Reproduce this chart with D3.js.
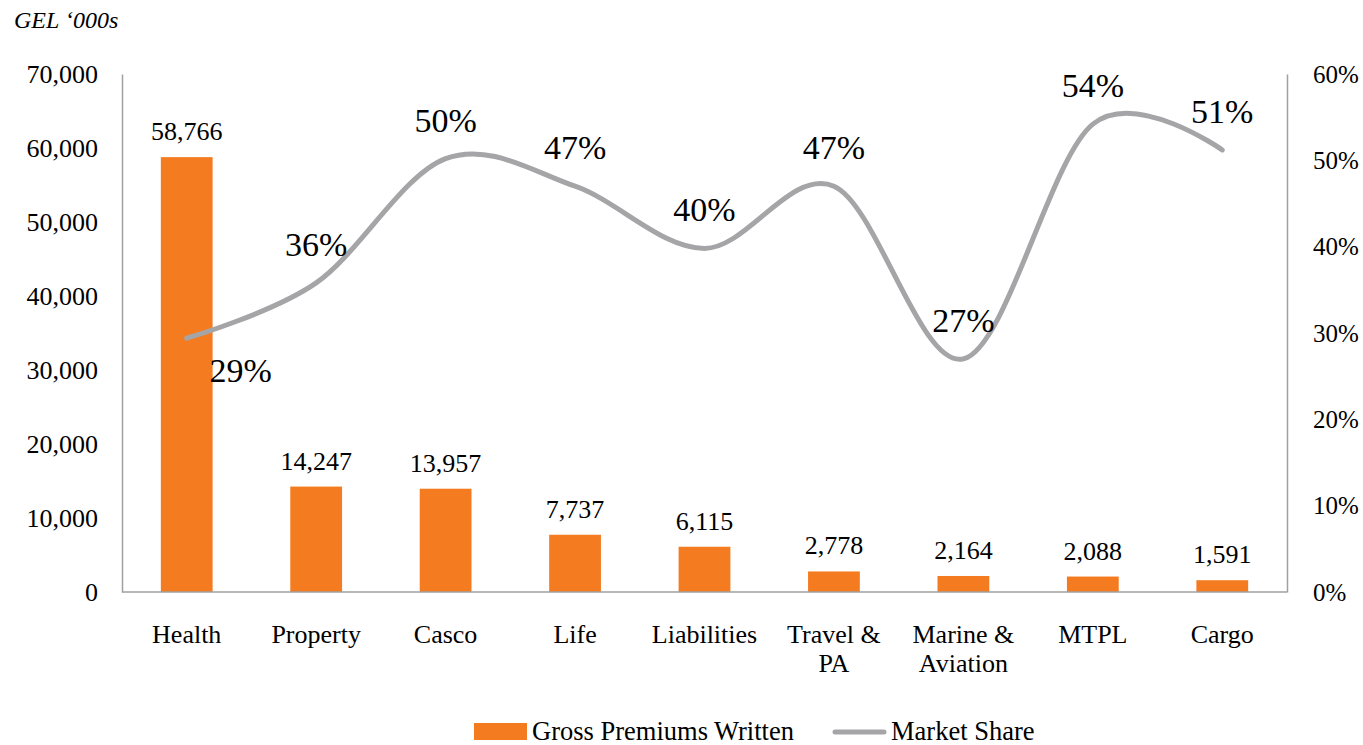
<!DOCTYPE html>
<html>
<head>
<meta charset="utf-8">
<script src="https://cdn.jsdelivr.net/npm/d3@7"></script>
<style>
  html, body { margin: 0; padding: 0; background: #fff; }
  svg { display: block; }
  svg text { font-family: "Liberation Serif", "Times New Roman", serif; }
</style>
</head>
<body>
<svg id="chart" width="1363" height="745"></svg>
<script>
const categories = ["Health", "Property", "Casco", "Life", "Liabilities", "Travel & PA", "Marine & Aviation", "MTPL", "Cargo"];
const categoryLines = [["Health"], ["Property"], ["Casco"], ["Life"], ["Liabilities"], ["Travel &", "PA"], ["Marine &", "Aviation"], ["MTPL"], ["Cargo"]];
const premiums = [58766, 14247, 13957, 7737, 6115, 2778, 2164, 2088, 1591];
const marketShare = [0.294, 0.358, 0.502, 0.470, 0.398, 0.470, 0.270, 0.542, 0.512];
const leftTicks = [0, 10000, 20000, 30000, 40000, 50000, 60000, 70000];
const rightTicks = [0, 0.1, 0.2, 0.3, 0.4, 0.5, 0.6];
const seriesNames = ["Gross Premiums Written", "Market Share"];
const unitLabel = "GEL \u2018000s";

const barColor = "#F47B20";
const lineColor = "#A5A5A8";
const axisColor = "#A0A0A0";
const serif = "Liberation Serif";

const svg = d3.select("#chart");
const plotL = 122, plotR = 1287, plotT = 74, plotB = 592;

const x = d3.scaleBand().domain(categories).range([plotL, plotR]).paddingInner(0.6).paddingOuter(0.3);
const yL = d3.scaleLinear().domain([0, 70000]).range([plotB, plotT]);
const yR = d3.scaleLinear().domain([0, 0.6]).range([plotB, plotT]);
const cx = c => x(c) + x.bandwidth() / 2;

// unit label
svg.append("text").attr("x", 14).attr("y", 28)
  .attr("font-family", serif).attr("font-size", 24).attr("font-style", "italic").attr("fill", "#000")
  .text(unitLabel);

// left axis
const axL = svg.append("g").attr("transform", `translate(${plotL},0)`)
  .call(d3.axisLeft(yL).tickValues(leftTicks).tickSize(0).tickPadding(24).tickFormat(d3.format(",")));
axL.select(".domain").attr("stroke", axisColor).attr("stroke-width", 1.5);
axL.selectAll("text").attr("font-size", 26).attr("font-family", serif).attr("fill", "#000");

// right axis
const axR = svg.append("g").attr("transform", `translate(${plotR},0)`)
  .call(d3.axisRight(yR).tickValues(rightTicks).tickSize(0).tickPadding(26).tickFormat(d3.format(".0%")));
axR.select(".domain").attr("stroke", axisColor).attr("stroke-width", 1.5);
axR.selectAll("text").attr("font-size", 25).attr("font-family", serif).attr("fill", "#000");

// bars
svg.append("g").selectAll("rect").data(premiums).join("rect")
  .attr("x", (d, i) => x(categories[i]))
  .attr("y", d => yL(d))
  .attr("width", x.bandwidth())
  .attr("height", d => plotB - yL(d))
  .attr("fill", barColor);

// bottom axis line (drawn over bars)
svg.append("line").attr("x1", plotL).attr("x2", plotR).attr("y1", plotB).attr("y2", plotB)
  .attr("stroke", axisColor).attr("stroke-width", 1.5);

// bar labels
svg.append("g").selectAll("text").data(premiums).join("text")
  .attr("x", (d, i) => cx(categories[i]))
  .attr("y", d => yL(d) - 17)
  .attr("text-anchor", "middle").attr("font-family", serif).attr("font-size", 26).attr("fill", "#000")
  .text(d => d3.format(",")(d));

// category labels
const cat = svg.append("g").selectAll("text").data(categoryLines).join("text")
  .attr("x", (d, i) => cx(categories[i]))
  .attr("y", 643)
  .attr("text-anchor", "middle").attr("font-family", serif).attr("font-size", 26).attr("fill", "#000");
cat.selectAll("tspan").data(d => d).join("tspan")
  .attr("x", function () { return d3.select(this.parentNode).attr("x"); })
  .attr("dy", (d, i) => i === 0 ? 0 : 29)
  .text(d => d);

// line
const line = d3.line()
  .x((d, i) => cx(categories[i]))
  .y(d => yR(d))
  .curve(d3.curveCardinal.tension(0));
svg.append("path").datum(marketShare)
  .attr("d", line).attr("fill", "none")
  .attr("stroke", lineColor).attr("stroke-width", 5).attr("stroke-linecap", "round");

// line labels
svg.append("g").selectAll("text").data(marketShare).join("text")
  .attr("x", (d, i) => cx(categories[i]) + (i === 0 ? 54 : 0))
  .attr("y", (d, i) => yR(d) + (i === 0 ? 44 : -27))
  .attr("text-anchor", "middle").attr("font-family", serif).attr("font-size", 34).attr("fill", "#000")
  .text(d => d3.format(".0%")(d));

// legend
const lg = svg.append("g");
lg.append("rect").attr("x", 474).attr("y", 723).attr("width", 53).attr("height", 17).attr("fill", barColor);
lg.append("text").attr("x", 532).attr("y", 740).attr("font-family", serif).attr("font-size", 26.5).attr("fill", "#000").text(seriesNames[0]);
lg.append("line").attr("x1", 835).attr("x2", 884).attr("y1", 732).attr("y2", 732)
  .attr("stroke", lineColor).attr("stroke-width", 5).attr("stroke-linecap", "round");
lg.append("text").attr("x", 891).attr("y", 740).attr("font-family", serif).attr("font-size", 26.5).attr("fill", "#000").text(seriesNames[1]);
</script>
</body>
</html>
